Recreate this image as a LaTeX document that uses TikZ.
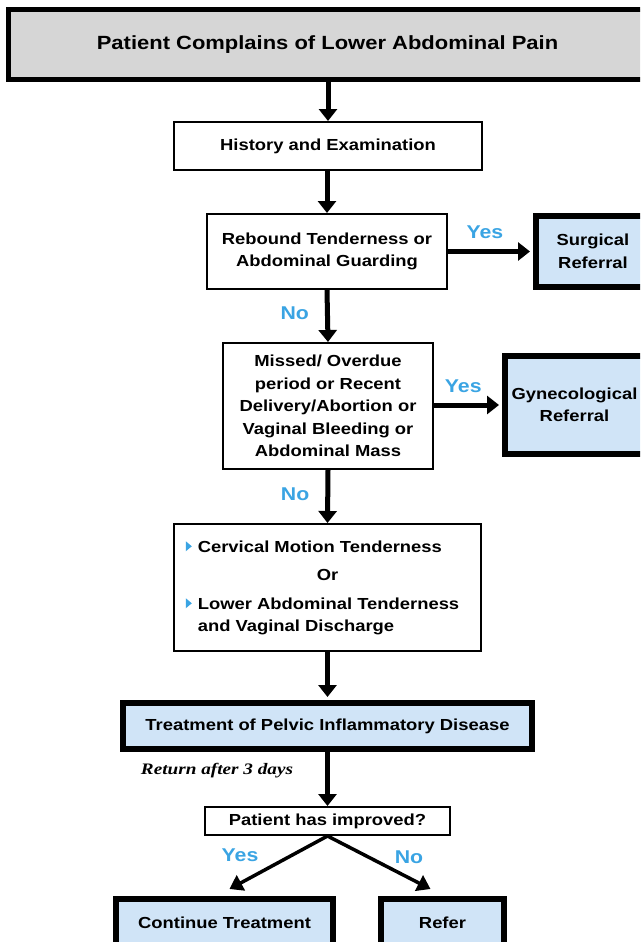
\documentclass[tikz,border=0pt]{standalone}
\usepackage{fontspec}
\setmainfont{Liberation Sans}[FakeStretch=1.15]
\newfontfamily\retfont{Liberation Serif}[FakeStretch=1.2]
\usetikzlibrary{arrows.meta}
\definecolor{titlegray}{HTML}{D6D6D6}
\definecolor{boxblue}{HTML}{D0E4F7}
\definecolor{lblblue}{HTML}{3AA4E3}
\newcommand{\bul}{\tikz[baseline=0pt]\fill[lblblue] (0pt,1pt) -- (0pt,11pt) -- (6pt,6pt) -- cycle;\hspace{6pt}}
\tikzset{
  txt/.style={font=\bfseries\fontsize{16}{22.5}\selectfont, align=center, inner sep=0pt},
  thinbox/.style={txt, draw=black, line width=2pt, fill=white},
  thickbox/.style={txt, draw=black, line width=6pt, fill=boxblue},
  arr/.style={line width=5pt, -{Triangle[width=18pt,length=12pt]}},
  diag/.style={line width=3.5pt, -{Triangle[width=17pt,length=13pt]}},
  lbl/.style={font=\bfseries\fontsize{18.5}{18.5}\selectfont, text=lblblue, inner sep=0pt},
}
\begin{document}
\begin{tikzpicture}[x=1pt,y=-1pt]
\useasboundingbox (0,0) rectangle (640,942);
\clip (0,0) rectangle (640,942);
\node[txt, draw=black, line width=5pt, fill=titlegray, minimum width=638, minimum height=70,
      font=\bfseries\fontsize{19.1}{22}\selectfont] (title) at (327.5,44.5) {Patient Complains of Lower Abdominal Pain};
\node[thinbox, minimum width=308, minimum height=48] (hist) at (328,146) {History and Examination};
\node[thinbox, minimum width=240, minimum height=75] (reb) at (327,251.5) {Rebound Tenderness or\\Abdominal Guarding};
\node[thickbox, minimum width=114, minimum height=71] (surg) at (593,251.5) {Surgical\\Referral};
\node[thinbox, minimum width=210, minimum height=126] (miss) at (328,406) {Missed/ Overdue\\period or Recent\\Delivery/Abortion or\\Vaginal Bleeding or\\Abdominal Mass};
\node[thickbox, minimum width=139, minimum height=98] (gyn) at (574.5,405) {Gynecological\\Referral};
\node[thinbox, minimum width=307, minimum height=127] (pid) at (327.5,587.5)
  {\begin{tabular}{@{}l@{}}\bul Cervical Motion Tenderness\\[6pt]
   \multicolumn{1}{@{}c@{}}{Or}\\[6pt]
   \bul Lower Abdominal Tenderness\hspace*{10pt}\\
   \hspace{12pt}and Vaginal Discharge\end{tabular}};
\node[thickbox, minimum width=409, minimum height=46] (treat) at (327.5,726) {Treatment of Pelvic Inflammatory Disease};
\node[thinbox, minimum width=245, minimum height=28] (imp) at (327.5,821) {Patient has improved?};
\node[thickbox, minimum width=217, minimum height=47] (cont) at (224.5,922.5) {Continue Treatment};
\node[thickbox, minimum width=123, minimum height=47] (ref) at (442.5,922.5) {Refer};

\node[inner sep=0pt, font=\retfont\bfseries\itshape\fontsize{16}{16}\selectfont] (ret) at (217,771) {Return after 3 days};

\draw[arr] (title.south -| hist.north) -- (hist.north);
\draw[arr] (hist.south -| reb.north) -- (reb.north);
\draw[arr] (reb.east) -- node[lbl, above=10pt, pos=0.45] (yes1) {Yes} ([xshift=-3pt]surg.west);
\draw[arr] (reb.south) -- node[lbl, left=16pt, pos=0.45] (no1) {No} (miss.north);
\draw[arr] (miss.east |- gyn.west) -- node[lbl, above=10pt, pos=0.45] (yes2) {Yes} ([xshift=-3pt]gyn.west);
\draw[arr] (miss.south) -- node[lbl, left=16pt, pos=0.45] (no2) {No} (pid.north);
\draw[arr] (pid.south) -- ([yshift=3pt]treat.north);
\draw[arr] (treat.south) -- (imp.north);
\draw[diag] (imp.south) -- ([xshift=5pt,yshift=7pt]cont.north);
\draw[diag] (imp.south) -- ([xshift=-12pt,yshift=7pt]ref.north);
\node[lbl] (yes3) at (240,855) {Yes};
\node[lbl] (no3) at (409,857) {No};
\end{tikzpicture}
\end{document}
